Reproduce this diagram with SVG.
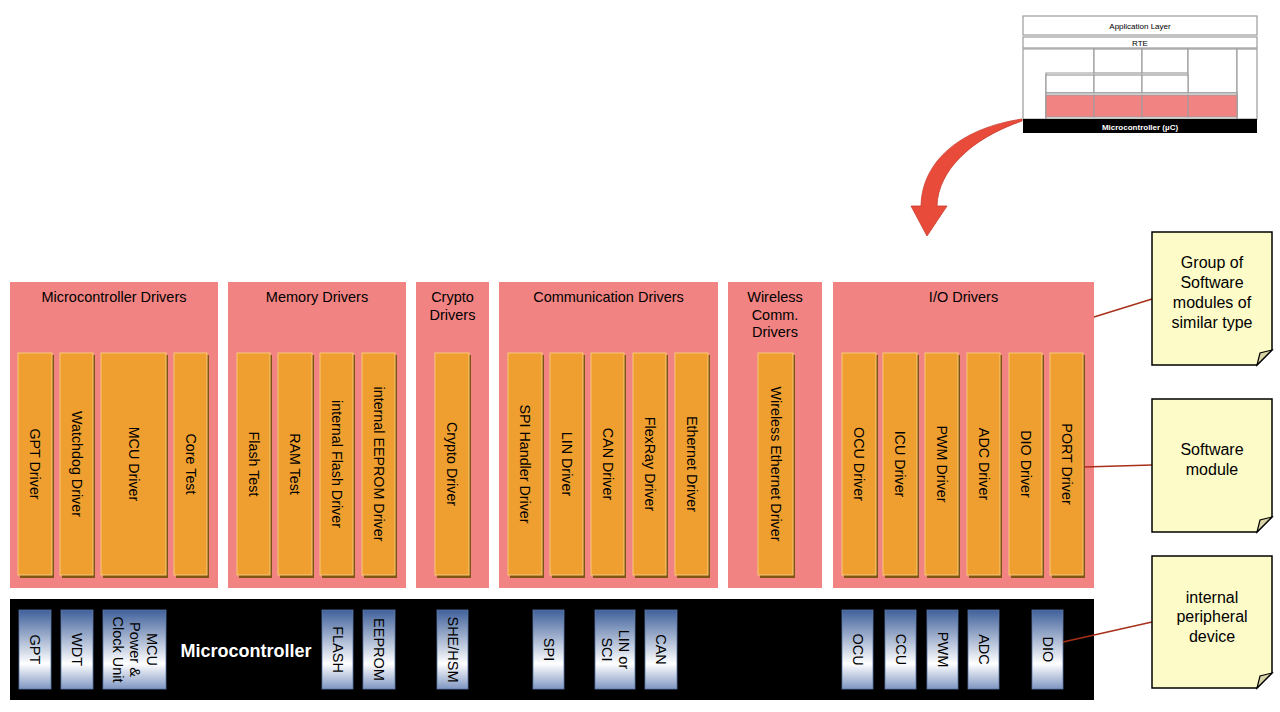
<svg xmlns="http://www.w3.org/2000/svg" width="1280" height="712" viewBox="0 0 1280 712">
<defs>
<linearGradient id="pg" x1="0" y1="0" x2="0" y2="1">
<stop offset="0" stop-color="#40619b"/>
<stop offset="0.68" stop-color="#ffffff"/>
<stop offset="1" stop-color="#7f96c2"/>
</linearGradient>
<style>
text{font-family:"Liberation Sans",Arial,sans-serif;fill:#000}
.grp{fill:#f18482}
.gt{font-size:14.5px;text-anchor:middle}
.sh{fill:#7e5612}
.drv{fill:#ef9f2f;stroke:#f8c878;stroke-width:1}
.dt{font-size:14.3px;text-anchor:middle}
.per{fill:url(#pg);stroke:#5a76a8;stroke-width:0.8}
.pt{font-size:14.5px;text-anchor:middle}
.note{fill:#fdfbc8;stroke:#000;stroke-width:1.5}
.fold{fill:#d9d4a6;stroke:#000;stroke-width:1.2}
.nt{font-size:16px;text-anchor:middle}
.con{stroke:#a8301a;stroke-width:1.5;fill:none}
.mb{fill:#fff;stroke:#9c9c9c;stroke-width:1.2}
.mt{font-size:8px;text-anchor:middle}
</style>
</defs>
<rect width="1280" height="712" fill="#fff"/>

<g id="overview">
<rect class="mb" x="1023" y="16" width="234" height="19"/>
<text class="mt" x="1140" y="29">Application Layer</text>
<rect class="mb" x="1023" y="37" width="234" height="11"/>
<text class="mt" x="1140" y="45.5">RTE</text>
<path class="mb" d="M1023,49 H1094 V73 H1046 V119 H1023 Z"/>
<rect class="mb" x="1094" y="49" width="48" height="24"/>
<rect class="mb" x="1142" y="49" width="46" height="24"/>
<rect class="mb" x="1188" y="49" width="49" height="44"/>
<rect class="mb" x="1046" y="75" width="48" height="18"/>
<rect class="mb" x="1094" y="75" width="48" height="18"/>
<rect class="mb" x="1142" y="75" width="46" height="18"/>
<rect class="mb" x="1237" y="49" width="20" height="70"/>
<rect class="mb" x="1046" y="93" width="191" height="26"/>
<rect x="1046" y="95" width="48" height="22" fill="#f18482" stroke="#9c9c9c" stroke-width="1"/>
<rect x="1094" y="95" width="48" height="22" fill="#f18482" stroke="#9c9c9c" stroke-width="1"/>
<rect x="1142" y="95" width="46" height="22" fill="#f18482" stroke="#9c9c9c" stroke-width="1"/>
<rect x="1188" y="95" width="49" height="22" fill="#f18482" stroke="#9c9c9c" stroke-width="1"/>
<rect x="1023" y="119" width="234" height="14" fill="#000"/>
<text class="mt" x="1140" y="129.5" style="fill:#fff;font-weight:bold">Microcontroller (µC)</text>
</g>

<g id="arrow">
<path d="M1022,119 C962,128 922,160 921,206 L911,206 L927,236 L947,206 L937,206 C938,170 972,138 1022,121 Z" fill="#e84b3a" stroke="#c93a2c" stroke-width="0.8"/>
</g>

<g id="grp-mcu">
<rect class="grp" x="10" y="282" width="208" height="306"/>
<text class="gt" x="114" y="302">Microcontroller Drivers</text>
<rect class="sh" x="20" y="355" width="34" height="223"/><rect class="drv" x="18" y="353" width="34" height="222"/>
<text class="dt" transform="translate(35,464) rotate(90)" y="5">GPT Driver</text>
<rect class="sh" x="62" y="355" width="33" height="223"/><rect class="drv" x="60" y="353" width="33" height="222"/>
<text class="dt" transform="translate(76.5,464) rotate(90)" y="5">Watchdog Driver</text>
<rect class="sh" x="103" y="355" width="65" height="223"/><rect class="drv" x="101" y="353" width="65" height="222"/>
<text class="dt" transform="translate(133.5,464) rotate(90)" y="5">MCU Driver</text>
<rect class="sh" x="176" y="355" width="33" height="223"/><rect class="drv" x="174" y="353" width="33" height="222"/>
<text class="dt" transform="translate(190.5,464) rotate(90)" y="5">Core Test</text>
</g>

<g id="grp-mem">
<rect class="grp" x="228" y="282" width="178" height="306"/>
<text class="gt" x="317" y="302">Memory Drivers</text>
<rect class="sh" x="239" y="355" width="33" height="223"/><rect class="drv" x="237" y="353" width="33" height="222"/>
<text class="dt" transform="translate(253.5,464) rotate(90)" y="5">Flash Test</text>
<rect class="sh" x="280" y="355" width="34" height="223"/><rect class="drv" x="278" y="353" width="34" height="222"/>
<text class="dt" transform="translate(295,464) rotate(90)" y="5">RAM Test</text>
<rect class="sh" x="322" y="355" width="33" height="223"/><rect class="drv" x="320" y="353" width="33" height="222"/>
<text class="dt" transform="translate(336.5,464) rotate(90)" y="5">internal Flash Driver</text>
<rect class="sh" x="364" y="355" width="33" height="223"/><rect class="drv" x="362" y="353" width="33" height="222"/>
<text class="dt" transform="translate(378.5,464) rotate(90)" y="5">internal EEPROM Driver</text>
</g>

<g id="grp-crypto">
<rect class="grp" x="416" y="282" width="73" height="306"/>
<text class="gt" x="452.5" y="302">Crypto</text>
<text class="gt" x="452.5" y="320">Drivers</text>
<rect class="sh" x="437" y="355" width="34" height="223"/><rect class="drv" x="435" y="353" width="34" height="222"/>
<text class="dt" transform="translate(452,464) rotate(90)" y="5">Crypto Driver</text>
</g>

<g id="grp-comm">
<rect class="grp" x="499" y="282" width="219" height="306"/>
<text class="gt" x="608.5" y="302">Communication Drivers</text>
<rect class="sh" x="510" y="355" width="34" height="223"/><rect class="drv" x="508" y="353" width="34" height="222"/>
<text class="dt" transform="translate(525,464) rotate(90)" y="5">SPI Handler Driver</text>
<rect class="sh" x="552" y="355" width="33" height="223"/><rect class="drv" x="550" y="353" width="33" height="222"/>
<text class="dt" transform="translate(566.5,464) rotate(90)" y="5">LIN Driver</text>
<rect class="sh" x="593" y="355" width="33" height="223"/><rect class="drv" x="591" y="353" width="33" height="222"/>
<text class="dt" transform="translate(607.5,464) rotate(90)" y="5">CAN Driver</text>
<rect class="sh" x="635" y="355" width="33" height="223"/><rect class="drv" x="633" y="353" width="33" height="222"/>
<text class="dt" transform="translate(649.5,464) rotate(90)" y="5">FlexRay Driver</text>
<rect class="sh" x="677" y="355" width="33" height="223"/><rect class="drv" x="675" y="353" width="33" height="222"/>
<text class="dt" transform="translate(691.5,464) rotate(90)" y="5">Ethernet Driver</text>
</g>

<g id="grp-wireless">
<rect class="grp" x="728" y="282" width="94" height="306"/>
<text class="gt" x="775" y="302">Wireless</text>
<text class="gt" x="775" y="320">Comm.</text>
<text class="gt" x="775" y="337">Drivers</text>
<rect class="sh" x="760" y="355" width="35" height="223"/><rect class="drv" x="758" y="353" width="35" height="222"/>
<text class="dt" transform="translate(775.5,464) rotate(90)" y="5">Wireless Ethernet Driver</text>
</g>

<g id="grp-io">
<rect class="grp" x="833" y="282" width="261" height="306"/>
<text class="gt" x="963.5" y="302">I/O Drivers</text>
<rect class="sh" x="844" y="355" width="34" height="223"/><rect class="drv" x="842" y="353" width="34" height="222"/>
<text class="dt" transform="translate(859,464) rotate(90)" y="5">OCU Driver</text>
<rect class="sh" x="885" y="355" width="34" height="223"/><rect class="drv" x="883" y="353" width="34" height="222"/>
<text class="dt" transform="translate(900,464) rotate(90)" y="5">ICU Driver</text>
<rect class="sh" x="927" y="355" width="33" height="223"/><rect class="drv" x="925" y="353" width="33" height="222"/>
<text class="dt" transform="translate(941.5,464) rotate(90)" y="5">PWM Driver</text>
<rect class="sh" x="969" y="355" width="33" height="223"/><rect class="drv" x="967" y="353" width="33" height="222"/>
<text class="dt" transform="translate(983.5,464) rotate(90)" y="5">ADC Driver</text>
<rect class="sh" x="1011" y="355" width="33" height="223"/><rect class="drv" x="1009" y="353" width="33" height="222"/>
<text class="dt" transform="translate(1025.5,464) rotate(90)" y="5">DIO Driver</text>
<rect class="sh" x="1052" y="355" width="33" height="223"/><rect class="drv" x="1050" y="353" width="33" height="222"/>
<text class="dt" transform="translate(1066.5,464) rotate(90)" y="5">PORT Driver</text>
</g>

<g id="microcontroller">
<rect x="10" y="599" width="1084" height="101" fill="#000"/>
<text x="246" y="657" style="font-size:18px;font-weight:bold;fill:#fff;text-anchor:middle">Microcontroller</text>
<rect class="per" x="19" y="610" width="32" height="79"/>
<text class="pt" transform="translate(35,649.5) rotate(90)" y="5">GPT</text>
<rect class="per" x="61" y="610" width="32" height="79"/>
<text class="pt" transform="translate(77,649.5) rotate(90)" y="5">WDT</text>
<rect class="per" x="103" y="610" width="63" height="79"/>
<text class="pt" transform="translate(134.5,649.5) rotate(90)" y="-12">MCU</text>
<text class="pt" transform="translate(134.5,649.5) rotate(90)" y="5">Power &amp;</text>
<text class="pt" transform="translate(134.5,649.5) rotate(90)" y="22">Clock Unit</text>
<rect class="per" x="322" y="610" width="31" height="79"/>
<text class="pt" transform="translate(337.5,649.5) rotate(90)" y="5">FLASH</text>
<rect class="per" x="363" y="610" width="32" height="79"/>
<text class="pt" transform="translate(379,649.5) rotate(90)" y="5">EEPROM</text>
<rect class="per" x="437" y="610" width="31" height="79"/>
<text class="pt" transform="translate(452.5,649.5) rotate(90)" y="5">SHE/HSM</text>
<rect class="per" x="533" y="610" width="31" height="79"/>
<text class="pt" transform="translate(548.5,649.5) rotate(90)" y="5">SPI</text>
<rect class="per" x="595" y="610" width="40" height="79"/>
<text class="pt" transform="translate(615,649.5) rotate(90)" y="-3.5">LIN or</text>
<text class="pt" transform="translate(615,649.5) rotate(90)" y="13.5">SCI</text>
<rect class="per" x="645" y="610" width="32" height="79"/>
<text class="pt" transform="translate(661,649.5) rotate(90)" y="5">CAN</text>
<rect class="per" x="842" y="610" width="31" height="79"/>
<text class="pt" transform="translate(857.5,649.5) rotate(90)" y="5">OCU</text>
<rect class="per" x="885" y="610" width="31" height="79"/>
<text class="pt" transform="translate(900.5,649.5) rotate(90)" y="5">CCU</text>
<rect class="per" x="927" y="610" width="31" height="79"/>
<text class="pt" transform="translate(942.5,649.5) rotate(90)" y="5">PWM</text>
<rect class="per" x="968" y="610" width="31" height="79"/>
<text class="pt" transform="translate(983.5,649.5) rotate(90)" y="5">ADC</text>
<rect class="per" x="1032" y="610" width="31" height="79"/>
<text class="pt" transform="translate(1047.5,649.5) rotate(90)" y="5">DIO</text>
</g>

<g id="connectors">
<line class="con" x1="1094" y1="317" x2="1152" y2="299"/>
<line class="con" x1="1084" y1="467" x2="1152" y2="465"/>
<line class="con" x1="1063" y1="642" x2="1152" y2="622"/>
</g>

<g id="note-group">
<path class="note" d="M1152,232 H1272 V350 L1257,365 H1152 Z"/>
<path class="fold" d="M1257,365 L1260,353 L1272,350 Z"/>
<text class="nt" x="1212" y="268">Group of</text>
<text class="nt" x="1212" y="288">Software</text>
<text class="nt" x="1212" y="308">modules of</text>
<text class="nt" x="1212" y="328">similar type</text>
</g>
<g id="note-module">
<path class="note" d="M1152,399 H1272 V517 L1257,532 H1152 Z"/>
<path class="fold" d="M1257,532 L1260,520 L1272,517 Z"/>
<text class="nt" x="1212" y="455">Software</text>
<text class="nt" x="1212" y="475">module</text>
</g>
<g id="note-peripheral">
<path class="note" d="M1152,556 H1272 V673 L1257,688 H1152 Z"/>
<path class="fold" d="M1257,688 L1260,676 L1272,673 Z"/>
<text class="nt" x="1212" y="603">internal</text>
<text class="nt" x="1212" y="622">peripheral</text>
<text class="nt" x="1212" y="642">device</text>
</g>
</svg>
